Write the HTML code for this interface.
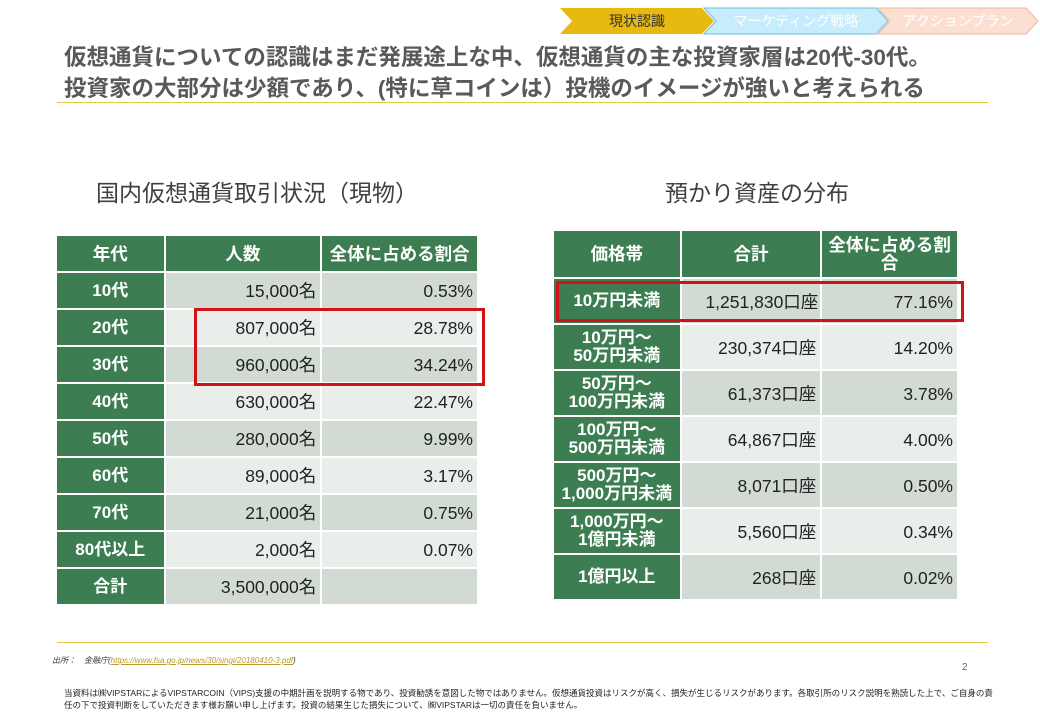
<!DOCTYPE html>
<html><head><meta charset="utf-8">
<style>
body{margin:0;width:1040px;height:720px;background:#fff;position:relative;overflow:hidden;font-family:"Liberation Sans","Noto Sans CJK JP",sans-serif;}
.abs{position:absolute;}
.title{left:64px;top:42px;font-size:22.5px;font-weight:bold;color:#595959;line-height:31px;white-space:nowrap;}
.sub{font-size:23px;color:#404040;top:174px;white-space:nowrap;}
table{border-collapse:collapse;position:absolute;table-layout:fixed;}
td,th{border:2px solid #fff;padding:0 4px;font-size:17.5px;color:#222;vertical-align:middle;line-height:20px;}
th{background:#3c7e52;color:#fff;font-weight:bold;text-align:center;line-height:18px;}
td.h{background:#3c7e52;color:#fff;font-weight:bold;text-align:center;line-height:18px;font-size:17px;}
td.n{text-align:right;}
td.n span{display:inline-block;line-height:20px;vertical-align:middle;}
tr.o td.n{background:#d1dbd4;}
tr.e td.n{background:#e9eeea;}
.red{position:absolute;border:3px solid #d0121b;box-sizing:border-box;}
</style></head><body>
<svg class="abs" style="left:0;top:0" width="1040" height="40">
<polygon points="560,8 702,8 714,21 702,34 560,34 572,21" fill="#e8b90f"/>
<polygon points="704,8 876,8 888,21 876,34 704,34 716,21" fill="#c7ecfb" stroke="#6bbfe0"/>
<polygon points="878,8 1026,8 1038,21 1026,34 878,34 890,21" fill="#fbe0d2" stroke="#eeb79a"/>
<text x="637" y="26" font-size="14" text-anchor="middle" fill="#333" font-family="Liberation Sans,Noto Sans CJK JP,sans-serif">現状認識</text>
<text x="796" y="26" font-size="14" text-anchor="middle" fill="#fff" font-family="Liberation Sans,Noto Sans CJK JP,sans-serif">マーケティング戦略</text>
<text x="958" y="26" font-size="14" text-anchor="middle" fill="#fff" font-family="Liberation Sans,Noto Sans CJK JP,sans-serif">アクションプラン</text>
</svg>
<div class="abs title">仮想通貨についての認識はまだ発展途上な中、仮想通貨の主な投資家層は20代-30代。<br>投資家の大部分は少額であり、(特に草コインは）投機のイメージが強いと考えられる</div>
<div class="abs" style="left:57px;top:102px;width:931px;height:1px;background:#e8c84a"></div>
<div class="abs sub" style="left:96px">国内仮想通貨取引状況（現物）</div>
<div class="abs sub" style="left:665px">預かり資産の分布</div>

<table style="left:55px;top:234px;width:424px">
<colgroup><col style="width:108px"><col style="width:156px"><col style="width:156px"></colgroup>
<tr style="height:37px"><th>年代</th><th>人数</th><th style="padding:0">全体に占める割合</th></tr>
<tr class="o" style="height:37px"><td class="h">10代</td><td class="n"><span>15,000名</span></td><td class="n"><span>0.53%</span></td></tr>
<tr class="e" style="height:37px"><td class="h">20代</td><td class="n"><span>807,000名</span></td><td class="n"><span>28.78%</span></td></tr>
<tr class="o" style="height:37px"><td class="h">30代</td><td class="n"><span>960,000名</span></td><td class="n"><span>34.24%</span></td></tr>
<tr class="e" style="height:37px"><td class="h">40代</td><td class="n"><span>630,000名</span></td><td class="n"><span>22.47%</span></td></tr>
<tr class="o" style="height:37px"><td class="h">50代</td><td class="n"><span>280,000名</span></td><td class="n"><span>9.99%</span></td></tr>
<tr class="e" style="height:37px"><td class="h">60代</td><td class="n"><span>89,000名</span></td><td class="n"><span>3.17%</span></td></tr>
<tr class="o" style="height:37px"><td class="h">70代</td><td class="n"><span>21,000名</span></td><td class="n"><span>0.75%</span></td></tr>
<tr class="e" style="height:37px"><td class="h">80代以上</td><td class="n"><span>2,000名</span></td><td class="n"><span>0.07%</span></td></tr>
<tr class="o" style="height:37px"><td class="h">合計</td><td class="n"><span>3,500,000名</span></td><td class="n"></td></tr>
</table>
<div class="red" style="left:194px;top:308px;width:291px;height:78px"></div>

<table style="left:552px;top:229px;width:407px">
<colgroup><col style="width:127px"><col style="width:140px"><col style="width:136px"></colgroup>
<tr style="height:48px"><th>価格帯</th><th>合計</th><th style="padding:0">全体に占める割<br>合</th></tr>
<tr class="o" style="height:46px"><td class="h">10万円未満</td><td class="n" style="padding:0 2px"><span>1,251,830口座</span></td><td class="n"><span>77.16%</span></td></tr>
<tr class="e" style="height:46px"><td class="h">10万円～<br>50万円未満</td><td class="n"><span>230,374口座</span></td><td class="n"><span>14.20%</span></td></tr>
<tr class="o" style="height:46px"><td class="h">50万円～<br>100万円未満</td><td class="n"><span>61,373口座</span></td><td class="n"><span>3.78%</span></td></tr>
<tr class="e" style="height:46px"><td class="h">100万円～<br>500万円未満</td><td class="n"><span>64,867口座</span></td><td class="n"><span>4.00%</span></td></tr>
<tr class="o" style="height:46px"><td class="h">500万円～<br>1,000万円未満</td><td class="n"><span>8,071口座</span></td><td class="n"><span>0.50%</span></td></tr>
<tr class="e" style="height:46px"><td class="h">1,000万円～<br>1億円未満</td><td class="n"><span>5,560口座</span></td><td class="n"><span>0.34%</span></td></tr>
<tr class="o" style="height:46px"><td class="h">1億円以上</td><td class="n"><span>268口座</span></td><td class="n"><span>0.02%</span></td></tr>
</table>
<div class="red" style="left:556px;top:281px;width:408px;height:41px"></div>

<div class="abs" style="left:57px;top:642px;width:931px;height:1px;background:#e8c84a"></div>
<div class="abs" style="left:52px;top:655px;font-size:8px;font-style:italic;color:#333">出所：　金融庁(<span style="color:#b89a2a;text-decoration:underline">https://www.fsa.go.jp/news/30/singi/20180410-3.pdf</span>)</div>
<div class="abs" style="left:962px;top:662px;font-size:10px;color:#666">2</div>
<div class="abs" style="left:64px;top:687px;width:930px;font-size:8.5px;line-height:12px;color:#222">当資料は㈱VIPSTARによるVIPSTARCOIN（VIPS)支援の中期計画を説明する物であり、投資勧誘を意図した物ではありません。仮想通貨投資はリスクが高く、損失が生じるリスクがあります。各取引所のリスク説明を熟読した上で、ご自身の責任の下で投資判断をしていただきます様お願い申し上げます。投資の結果生じた損失について、㈱VIPSTARは一切の責任を負いません。</div>
</body></html>
